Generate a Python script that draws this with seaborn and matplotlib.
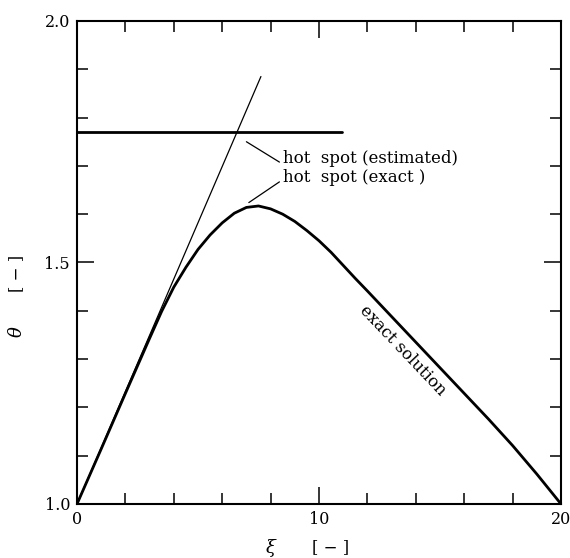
import numpy as np
import pandas as pd
import seaborn as sns
import matplotlib
matplotlib.use("Agg")
import matplotlib.pyplot as plt

# ---- data ----
xi_exact = [0, 1, 2, 3, 3.5, 4.0, 4.5, 5.0, 5.5, 6.0, 6.5, 7.0, 7.5, 8.0,
            8.5, 9.0, 9.5, 10.0, 10.5, 11.0, 11.5, 12.0, 13.0, 14.0, 15.0,
            16.0, 17.0, 18.0, 19.0, 20.0]
theta_exact = [1.0, 1.114, 1.229, 1.343, 1.399, 1.449, 1.490, 1.527, 1.557,
               1.582, 1.602, 1.614, 1.617, 1.611, 1.600, 1.585, 1.566,
               1.545, 1.521, 1.494, 1.467, 1.441, 1.388, 1.335, 1.282,
               1.229, 1.176, 1.121, 1.062, 1.0]
xi_tangent = [0.0, 7.6]
theta_tangent = [1.0, 1.885]
xi_estimated = [0.0, 10.95]
theta_estimated = [1.771, 1.771]

x_major = [0, 10, 20]
y_major = [1.0, 1.5, 2.0]
y_major_labels = ["1.0", "1.5", "2.0"]

sns.set_style("ticks")
plt.rcParams['font.family'] = ['DejaVu Serif']
plt.rcParams['mathtext.fontset'] = 'dejavuserif'
plt.rcParams['text.color'] = 'black'

fig = plt.figure(figsize=(5.7, 5.58), dpi=100)
ax = fig.add_axes([0.1351, 0.0968, 0.8491, 0.8656])

df_exact = pd.DataFrame({"xi": xi_exact, "theta": theta_exact})
df_tan = pd.DataFrame({"xi": xi_tangent, "theta": theta_tangent})
df_est = pd.DataFrame({"xi": xi_estimated, "theta": theta_estimated})

sns.lineplot(data=df_exact, x="xi", y="theta", ax=ax, color="black",
             linewidth=2.0, sort=False)
sns.lineplot(data=df_tan, x="xi", y="theta", ax=ax, color="black",
             linewidth=0.9, sort=False)
sns.lineplot(data=df_est, x="xi", y="theta", ax=ax, color="black",
             linewidth=2.0, sort=False)

ax.set_xlim(0, 20)
ax.set_ylim(1.0, 2.0)
ax.set_xticks(x_major)
ax.set_xticks(np.arange(0, 20.01, 2), minor=True)
ax.set_yticks(y_major)
ax.set_yticklabels(y_major_labels)
ax.set_yticks(np.arange(1.0, 2.001, 0.1), minor=True)
ax.tick_params(which='both', direction='in', top=True, right=True,
               width=1.1, colors='black', labelsize=11.5)
ax.tick_params(which='major', length=12, pad=5)
ax.tick_params(which='minor', length=8)
for s in ax.spines.values():
    s.set_linewidth(1.5)
    s.set_color('black')
ax.set_xlabel("")
ax.set_ylabel("")

# axis labels
fig.text(271 / 570, 1 - 548 / 558, r"$\xi$", ha='center', va='center',
         fontsize=13)
fig.text(331 / 570, 1 - 548 / 558, "[ − ]", ha='center', va='center',
         fontsize=12)
fig.text(17 / 570, 1 - 332 / 558, r"$\theta$", ha='center', va='center',
         fontsize=13, rotation=90)
fig.text(17 / 570, 1 - 273 / 558, "[ − ]", ha='center', va='center',
         fontsize=12, rotation=90)

# annotations
ax.annotate("hot  spot (estimated)", xy=(7.0, 1.750), xytext=(8.5, 1.716),
            ha='left', va='center', fontsize=12,
            arrowprops=dict(arrowstyle='-', color='black', lw=0.9,
                            shrinkA=0, shrinkB=0, relpos=(0, 0.15)))
ax.annotate("hot  spot (exact )", xy=(7.1, 1.624), xytext=(8.5, 1.675),
            ha='left', va='center', fontsize=12,
            arrowprops=dict(arrowstyle='-', color='black', lw=0.9,
                            shrinkA=0, shrinkB=0, relpos=(0, 0.4)))
ax.text(13.45, 1.318, "exact solution", rotation=-46.5, ha='center',
        va='center', rotation_mode='anchor', fontsize=12)

fig.savefig("out.png", dpi=100)
